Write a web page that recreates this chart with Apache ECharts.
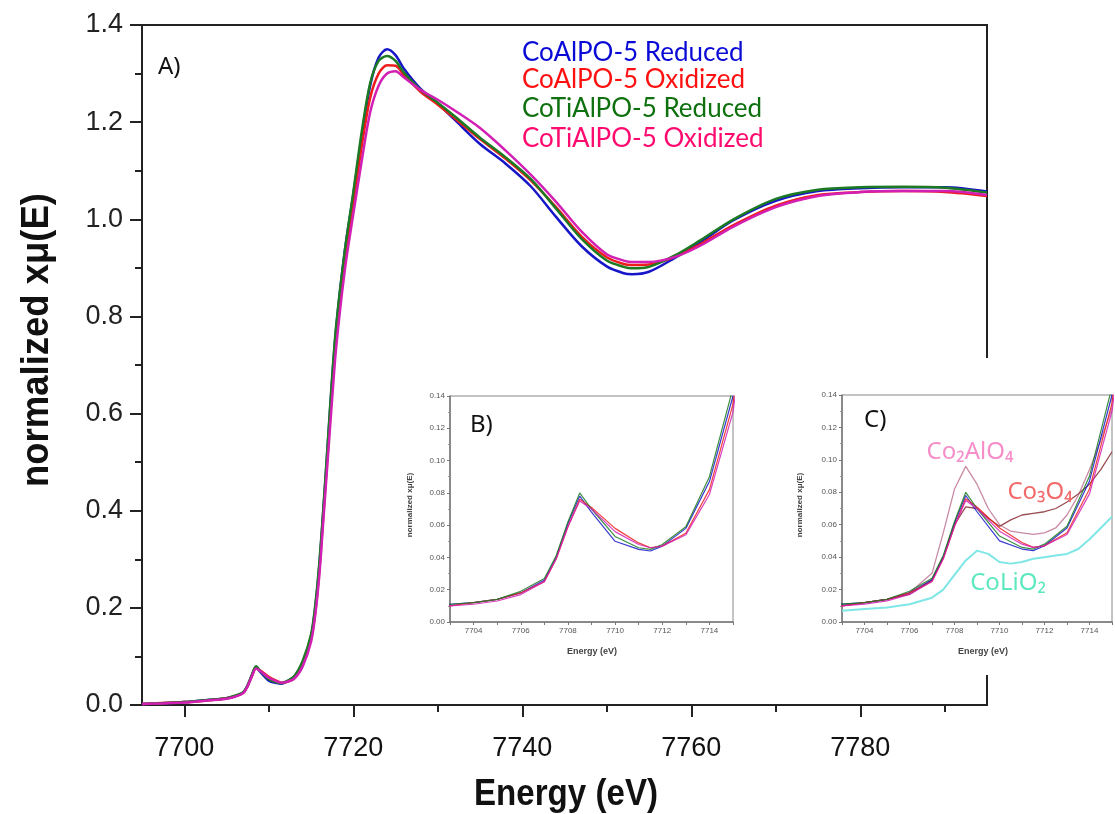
<!DOCTYPE html>
<html>
<head>
<meta charset="utf-8">
<script src="https://cdn.jsdelivr.net/npm/echarts@6/dist/echarts.min.js"></script>
<style>
  html, body { margin: 0; padding: 0; background: #fff; }
  #chart { width: 1115px; height: 814px; }
</style>
</head>
<body>
<div id="chart"></div>
<script>
// energy grid (eV) shared by the four sample spectra
const energy = [7695, 7700, 7703, 7704, 7705, 7706, 7707, 7707.5, 7708, 7708.5,
  7709, 7710, 7711, 7711.5, 7712, 7713, 7714, 7715, 7715.5, 7716,
  7716.5, 7717, 7717.5, 7718, 7719, 7720, 7721, 7722, 7723, 7724,
  7725, 7726, 7728, 7730, 7732, 7735, 7738, 7741, 7744, 7747,
  7750, 7752, 7753, 7755, 7758, 7761, 7765, 7770, 7775, 7780,
  7785, 7790, 7795];

const coAlpoReduced = [0.002, 0.006, 0.011, 0.012, 0.014, 0.018, 0.026, 0.040, 0.061, 0.078,
  0.068, 0.050, 0.045, 0.044, 0.047, 0.058, 0.087, 0.140, 0.200, 0.290,
  0.410, 0.540, 0.670, 0.780, 0.935, 1.050, 1.170, 1.275, 1.333, 1.350,
  1.338, 1.310, 1.268, 1.238, 1.205, 1.155, 1.115, 1.068, 1.005, 0.945,
  0.903, 0.889, 0.887, 0.892, 0.920, 0.952, 0.998, 1.038, 1.058, 1.064,
  1.066, 1.066, 1.057];

const coAlpoOxidized = [0.002, 0.006, 0.010, 0.012, 0.014, 0.018, 0.025, 0.039, 0.059, 0.076,
  0.071, 0.058, 0.049, 0.046, 0.047, 0.055, 0.082, 0.135, 0.190, 0.280,
  0.400, 0.525, 0.650, 0.760, 0.910, 1.030, 1.150, 1.250, 1.300, 1.317,
  1.316, 1.297, 1.262, 1.236, 1.208, 1.165, 1.125, 1.080, 1.025, 0.965,
  0.922, 0.908, 0.906, 0.907, 0.922, 0.948, 0.988, 1.028, 1.050, 1.056,
  1.058, 1.056, 1.048];

const coTiAlpoReduced = [0.002, 0.006, 0.011, 0.012, 0.014, 0.019, 0.027, 0.041, 0.062, 0.080,
  0.070, 0.053, 0.046, 0.045, 0.048, 0.059, 0.090, 0.145, 0.205, 0.295,
  0.415, 0.545, 0.675, 0.785, 0.935, 1.055, 1.180, 1.280, 1.326, 1.336,
  1.326, 1.302, 1.266, 1.240, 1.212, 1.168, 1.128, 1.083, 1.022, 0.960,
  0.915, 0.902, 0.899, 0.902, 0.925, 0.956, 1.000, 1.042, 1.061, 1.066,
  1.067, 1.065, 1.055];

const coTiAlpoOxidized = [0.002, 0.005, 0.010, 0.011, 0.013, 0.017, 0.025, 0.039, 0.059, 0.075,
  0.070, 0.056, 0.048, 0.046, 0.047, 0.054, 0.079, 0.130, 0.185, 0.270,
  0.390, 0.510, 0.630, 0.740, 0.895, 1.010, 1.120, 1.220, 1.275, 1.300,
  1.305, 1.292, 1.266, 1.246, 1.224, 1.188, 1.142, 1.092, 1.036, 0.975,
  0.928, 0.915, 0.912, 0.912, 0.922, 0.945, 0.985, 1.025, 1.048, 1.056,
  1.058, 1.058, 1.050];

// reference compounds (inset C)
const refEnergy = [7703, 7704, 7705, 7706, 7707, 7707.5, 7708, 7708.5, 7709, 7709.5,
  7710, 7710.5, 7711, 7711.5, 7712, 7712.5, 7713, 7713.5, 7714, 7714.5, 7715];
const co2AlO4 = [0.010, 0.012, 0.014, 0.018, 0.030, 0.055, 0.082, 0.096, 0.085, 0.070,
  0.060, 0.056, 0.055, 0.054, 0.055, 0.058, 0.066, 0.078, 0.094, 0.112, 0.132];
const co3O4 = [0.010, 0.012, 0.014, 0.017, 0.026, 0.040, 0.060, 0.071, 0.070, 0.064,
  0.059, 0.063, 0.066, 0.067, 0.068, 0.070, 0.074, 0.079, 0.085, 0.094, 0.105];
const coLiO2 = [0.007, 0.008, 0.009, 0.011, 0.015, 0.020, 0.029, 0.038, 0.044, 0.042,
  0.037, 0.036, 0.037, 0.039, 0.040, 0.041, 0.042, 0.045, 0.051, 0.058, 0.065];

const mainTicks = [7700, 7720, 7740, 7760, 7780];
const mainMinorTicks = [7710, 7730, 7750, 7770, 7790];

const sampleNames = ["CoAlPO-5 Reduced", "CoAlPO-5 Oxidized", "CoTiAlPO-5 Reduced", "CoTiAlPO-5 Oxidized"];
const sampleValues = [coAlpoReduced, coAlpoOxidized, coTiAlpoReduced, coTiAlpoOxidized];
const lineColors = ["#1616c8", "#ee1c1c", "#1b7a22", "#d21fb4"];
const textColors = ["#0a0ad6", "#ff1010", "#0e700e", "#ff0a6e"];
const legendRows = [53, 80, 109, 139];

function pairs(xs, ys) {
  return xs.map((x, i) => [x, ys[i]]);
}

const chart = echarts.init(document.getElementById("chart"));

const insetXAxis = (gridIndex) => ({
  type: "value", gridIndex, min: 7703, max: 7715, interval: 1, z: 3,
  axisLine: { lineStyle: { color: "#777", width: 1.5 } },
  axisTick: { length: 3, lineStyle: { color: "#777" } },
  axisLabel: {
    color: "#555", fontSize: 8, margin: 5, fontFamily: "Liberation Sans",
    formatter: (v) => (v % 2 === 0 ? String(v) : ""),
  },
  splitLine: { show: false },
});

const insetYAxis = (gridIndex) => ({
  type: "value", gridIndex, min: 0, max: 0.14, interval: 0.02, z: 3,
  axisLine: { show: true, lineStyle: { color: "#777", width: 1.5 } },
  axisTick: { show: true, length: 3, lineStyle: { color: "#777" } },
  minorTick: { show: true, splitNumber: 2, length: 2, lineStyle: { color: "#999" } },
  axisLabel: { color: "#555", fontSize: 8, margin: 5, fontFamily: "Liberation Sans", formatter: (v) => v.toFixed(2) },
  splitLine: { show: false },
});

const series = [];
sampleNames.forEach((name, i) => {
  series.push({
    name, type: "line", xAxisIndex: 0, yAxisIndex: 0, data: pairs(energy, sampleValues[i]),
    showSymbol: false, smooth: 0.3, lineStyle: { color: lineColors[i], width: 2.5 }, z: 2,
  });
});
sampleNames.forEach((name, i) => {
  series.push({
    name, type: "line", xAxisIndex: 2, yAxisIndex: 1, data: pairs(energy, sampleValues[i]),
    showSymbol: false, lineStyle: { color: lineColors[i], width: 1.2, opacity: 0.85 }, z: 4,
  });
});
const refSeries = [
  ["Co2AlO4", co2AlO4, "#c98aa6"],
  ["Co3O4", co3O4, "#9a4c52"],
  ["CoLiO2", coLiO2, "#7fe6e6"],
];
refSeries.forEach(([name, vals, color]) => {
  series.push({
    name, type: "line", xAxisIndex: 3, yAxisIndex: 2, data: pairs(refEnergy, vals),
    showSymbol: false, lineStyle: { color, width: name === "CoLiO2" ? 2 : 1.3 }, z: 4,
  });
});
sampleNames.forEach((name, i) => {
  series.push({
    name, type: "line", xAxisIndex: 3, yAxisIndex: 2, data: pairs(energy, sampleValues[i]),
    showSymbol: false, lineStyle: { color: lineColors[i], width: 1.2, opacity: 0.85 }, z: 5,
  });
});

const graphic = [
  { type: "rect", z: 1, shape: { x: 800, y: 358, width: 315, height: 317 }, style: { fill: "#fff" } },
  { type: "text", z: 10, x: 158, y: 67, style: { text: "A)", font: "24px 'Noto Sans'", fill: "#111", verticalAlign: "middle" } },
  { type: "text", z: 10, x: 470, y: 425, style: { text: "B)", font: "24px 'Noto Sans'", fill: "#111", verticalAlign: "middle" } },
  { type: "text", z: 10, x: 864, y: 420, style: { text: "C)", font: "24px 'Noto Sans'", fill: "#111", verticalAlign: "middle" } },
  { type: "text", z: 10, x: 970, y: 452, style: { text: "Co₂AlO₄", font: "24px 'Noto Sans'", fill: "#f58ec8", align: "center", verticalAlign: "middle" } },
  { type: "text", z: 10, x: 1040, y: 492, style: { text: "Co₃O₄", font: "24px 'Noto Sans'", fill: "#f36a6a", align: "center", verticalAlign: "middle" } },
  { type: "text", z: 10, x: 1008, y: 583, style: { text: "CoLiO₂", font: "24px 'Noto Sans'", fill: "#5ee8c0", align: "center", verticalAlign: "middle" } },
  { type: "text", z: 10, x: 38, y: 340, rotation: Math.PI / 2, scaleX: 0.96, style: { text: "normalized xμ(E)", font: "bold 38px 'Liberation Sans'", fill: "#111", align: "center", verticalAlign: "middle" } },
  { type: "text", z: 10, x: 566, y: 795, scaleX: 0.92, style: { text: "Energy (eV)", font: "bold 36px 'Liberation Sans'", fill: "#111", align: "center", verticalAlign: "middle" } },
  { type: "text", z: 10, x: 410, y: 505, rotation: Math.PI / 2, style: { text: "normalized xμ(E)", font: "bold 8px 'Liberation Sans'", fill: "#444", align: "center", verticalAlign: "middle" } },
  { type: "text", z: 10, x: 592, y: 652, style: { text: "Energy (eV)", font: "bold 9px 'Liberation Sans'", fill: "#444", align: "center", verticalAlign: "middle" } },
  { type: "text", z: 10, x: 800, y: 505, rotation: Math.PI / 2, style: { text: "normalized xμ(E)", font: "bold 8px 'Liberation Sans'", fill: "#444", align: "center", verticalAlign: "middle" } },
  { type: "text", z: 10, x: 983, y: 652, style: { text: "Energy (eV)", font: "bold 9px 'Liberation Sans'", fill: "#444", align: "center", verticalAlign: "middle" } },
];
sampleNames.forEach((name, i) => {
  graphic.push({
    type: "text", z: 10, x: 522, y: legendRows[i],
    style: { text: name, font: "26px Lato", fill: textColors[i], verticalAlign: "middle" },
  });
});

chart.setOption({
  animation: false,
  backgroundColor: "#fff",
  grid: [
    { left: 142, right: 128, top: 25, bottom: 109, show: true, borderColor: "#222", borderWidth: 2 },
    { left: 450, top: 396, width: 283, height: 226, show: true, borderColor: "#888", borderWidth: 1, z: 2 },
    { left: 842, top: 395, width: 281, height: 227, show: true, borderColor: "#888", borderWidth: 1, z: 2 },
  ],
  xAxis: [
    {
      type: "value", gridIndex: 0, min: 7695, max: 7795,
      axisLine: { lineStyle: { color: "#222", width: 2 } },
      axisTick: { customValues: mainTicks, length: 12, lineStyle: { color: "#222", width: 2 } },
      axisLabel: {
        customValues: mainTicks, color: "#111", fontSize: 27, margin: 30,
        fontFamily: "'Liberation Sans'", formatter: (v) => String(v),
      },
      splitLine: { show: false },
    },
    {
      type: "value", gridIndex: 0, min: 7695, max: 7795, position: "bottom",
      axisLine: { show: false },
      axisTick: { customValues: mainMinorTicks, length: 7, lineStyle: { color: "#222", width: 2 } },
      axisLabel: { show: false },
      splitLine: { show: false },
    },
    insetXAxis(1),
    insetXAxis(2),
  ],
  yAxis: [
    {
      type: "value", gridIndex: 0, min: 0, max: 1.4, interval: 0.2,
      axisLine: { show: true, lineStyle: { color: "#222", width: 2 } },
      axisTick: { show: true, length: 12, lineStyle: { color: "#222", width: 2 } },
      minorTick: { show: true, splitNumber: 2, length: 7, lineStyle: { color: "#222", width: 2 } },
      axisLabel: { color: "#222", fontSize: 27, margin: 19, fontFamily: "'Liberation Sans'", formatter: (v) => v.toFixed(1) },
      splitLine: { show: false },
    },
    insetYAxis(1),
    insetYAxis(2),
  ],
  graphic,
  series,
});
</script>
</body>
</html>
